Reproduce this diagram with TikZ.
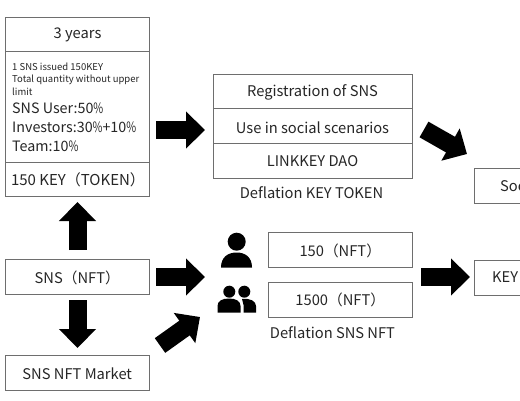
\documentclass[tikz,border=0pt]{standalone}
\usepackage{fontspec}
\setmainfont{Noto Sans CJK SC}
\usetikzlibrary{arrows.meta}
\definecolor{edgegray}{HTML}{6E6E6E}
\definecolor{inkgray}{HTML}{262626}
\newcommand{\narrowpct}{\scalebox{0.75}[1]{\%}}
\tikzset{
  x=1pt,y=-1pt,
  cell/.style={draw=edgegray,line width=1pt,fill=white},
  lbl/.style={text=inkgray,font=\fontsize{14.7}{17}\selectfont,inner sep=0pt,yshift=-1pt},
  smallline/.style={text=inkgray,font=\fontsize{9.5}{11}\selectfont,inner sep=0pt,anchor=base west},
  bigline/.style={text=inkgray,font=\fontsize{14.3}{17}\selectfont,inner sep=0pt,anchor=base west},
  wide/.style={minimum width=144.5pt,minimum height=34.5pt},
  blockarrow/.style={line width=18pt,draw=black,-{Triangle[length=19pt,width=36pt,fill=black]}},
}
\begin{document}
\begin{tikzpicture}
\useasboundingbox (0,0) rectangle (520,400);
\clip (0,0) rectangle (520,400);
% left stack
\draw[cell] (5,17) rectangle (149.5,196);
\draw[cell] (5,51.5) -- (149.5,51.5);
\draw[cell] (5,162) -- (149.5,162);
\node[lbl] (years) at (77.5,34) {3 years};
\node[smallline] (s1) at (12,70) {1 SNS issued 150KEY};
\node[smallline] (s2) at (12,82.5) {Total quantity without upper};
\node[smallline] (s3) at (12,95) {limit};
\node[bigline] (s4) at (12,113) {SNS User:50\narrowpct};
\node[bigline] (s5) at (12,132.5) {Investors:30\narrowpct+10\narrowpct};
\node[bigline] (s6) at (12,151.5) {Team:10\narrowpct};
\node[lbl,font=\fontsize{15}{18}\selectfont] (token) at (78,179) {150 KEY（TOKEN）};
% middle stack
\draw[cell] (213,74) rectangle (412.5,178);
\draw[cell] (213,108.5) -- (412.5,108.5);
\draw[cell] (213,143) -- (412.5,143);
\node[lbl] (reg) at (312.5,91) {Registration of SNS};
\node[lbl] (use) at (312.5,126.5) {Use in social scenarios};
\node[lbl] (dao) at (312.5,160.5) {LINKKEY DAO};
\node[lbl] (defkey) at (311.5,191.5) {Deflation KEY TOKEN};
% right clipped boxes
\draw[cell] (474,168) rectangle (530,203);
\node[lbl,anchor=west] (soc) at (500,185.5) {Soc};
\draw[cell] (474,260) rectangle (530,295);
\node[lbl,anchor=west] (key) at (492,276.5) {KEY};
% lower left
\node[cell,wide] (sns) at (77.25,277) {};
\node[lbl] (snstext) at (77.25,276.5) {SNS（NFT）};
\node[cell,wide] (market) at (77.25,373) {};
\node[lbl] (markettext) at (77.25,372.5) {SNS NFT Market};
% NFT boxes
\node[cell,wide] (n150) at (340.25,250) {};
\node[lbl] (n150text) at (340.25,249.5) {150（NFT）};
\node[cell,wide] (n1500) at (340.25,299.75) {};
\node[lbl] (n1500text) at (340.25,299) {1500（NFT）};
\node[lbl] (defsns) at (332.5,331.5) {Deflation SNS NFT};
% people icons
\fill[black] (236.7,241.7) circle (9);
\fill[black] (221,267.5) .. controls (221,257) and (228,252.5) .. (236.7,252.5) .. controls (245,252.5) and (252,257) .. (252,267.5) -- cycle;
\fill[black] (229.3,291.7) circle (6);
\fill[black] (244.3,291.7) circle (6);
\fill[black] (217.5,312.5) -- (217.5,306) .. controls (217.5,301) and (222,298.5) .. (229,298.5) .. controls (236,298.5) and (240.5,301) .. (240.5,306) -- (240.5,312.5) -- cycle;
\fill[black] (242,299) .. controls (250,298) and (256,301) .. (256,306) -- (256,312.5) -- (243.5,312.5) -- (243.5,305) -- cycle;
% arrows
\coordinate (a1s) at (156,130); \coordinate (a1e) at (205,130);
\coordinate (a2s) at (424,129.5); \coordinate (a2e) at (467,154);
\coordinate (a3s) at (77.5,250); \coordinate (a3e) at (77.5,202);
\coordinate (a4s) at (156,277); \coordinate (a4e) at (205,277);
\coordinate (a5s) at (77.5,300); \coordinate (a5e) at (77.5,348);
\coordinate (a6s) at (160,345.5); \coordinate (a6e) at (200,317);
\coordinate (a7s) at (421,277); \coordinate (a7e) at (470,277);
\foreach \s/\e in {a1s/a1e,a2s/a2e,a3s/a3e,a4s/a4e,a5s/a5e,a6s/a6e,a7s/a7e}
  \draw[blockarrow] (\s) -- (\e);
\end{tikzpicture}
\end{document}
